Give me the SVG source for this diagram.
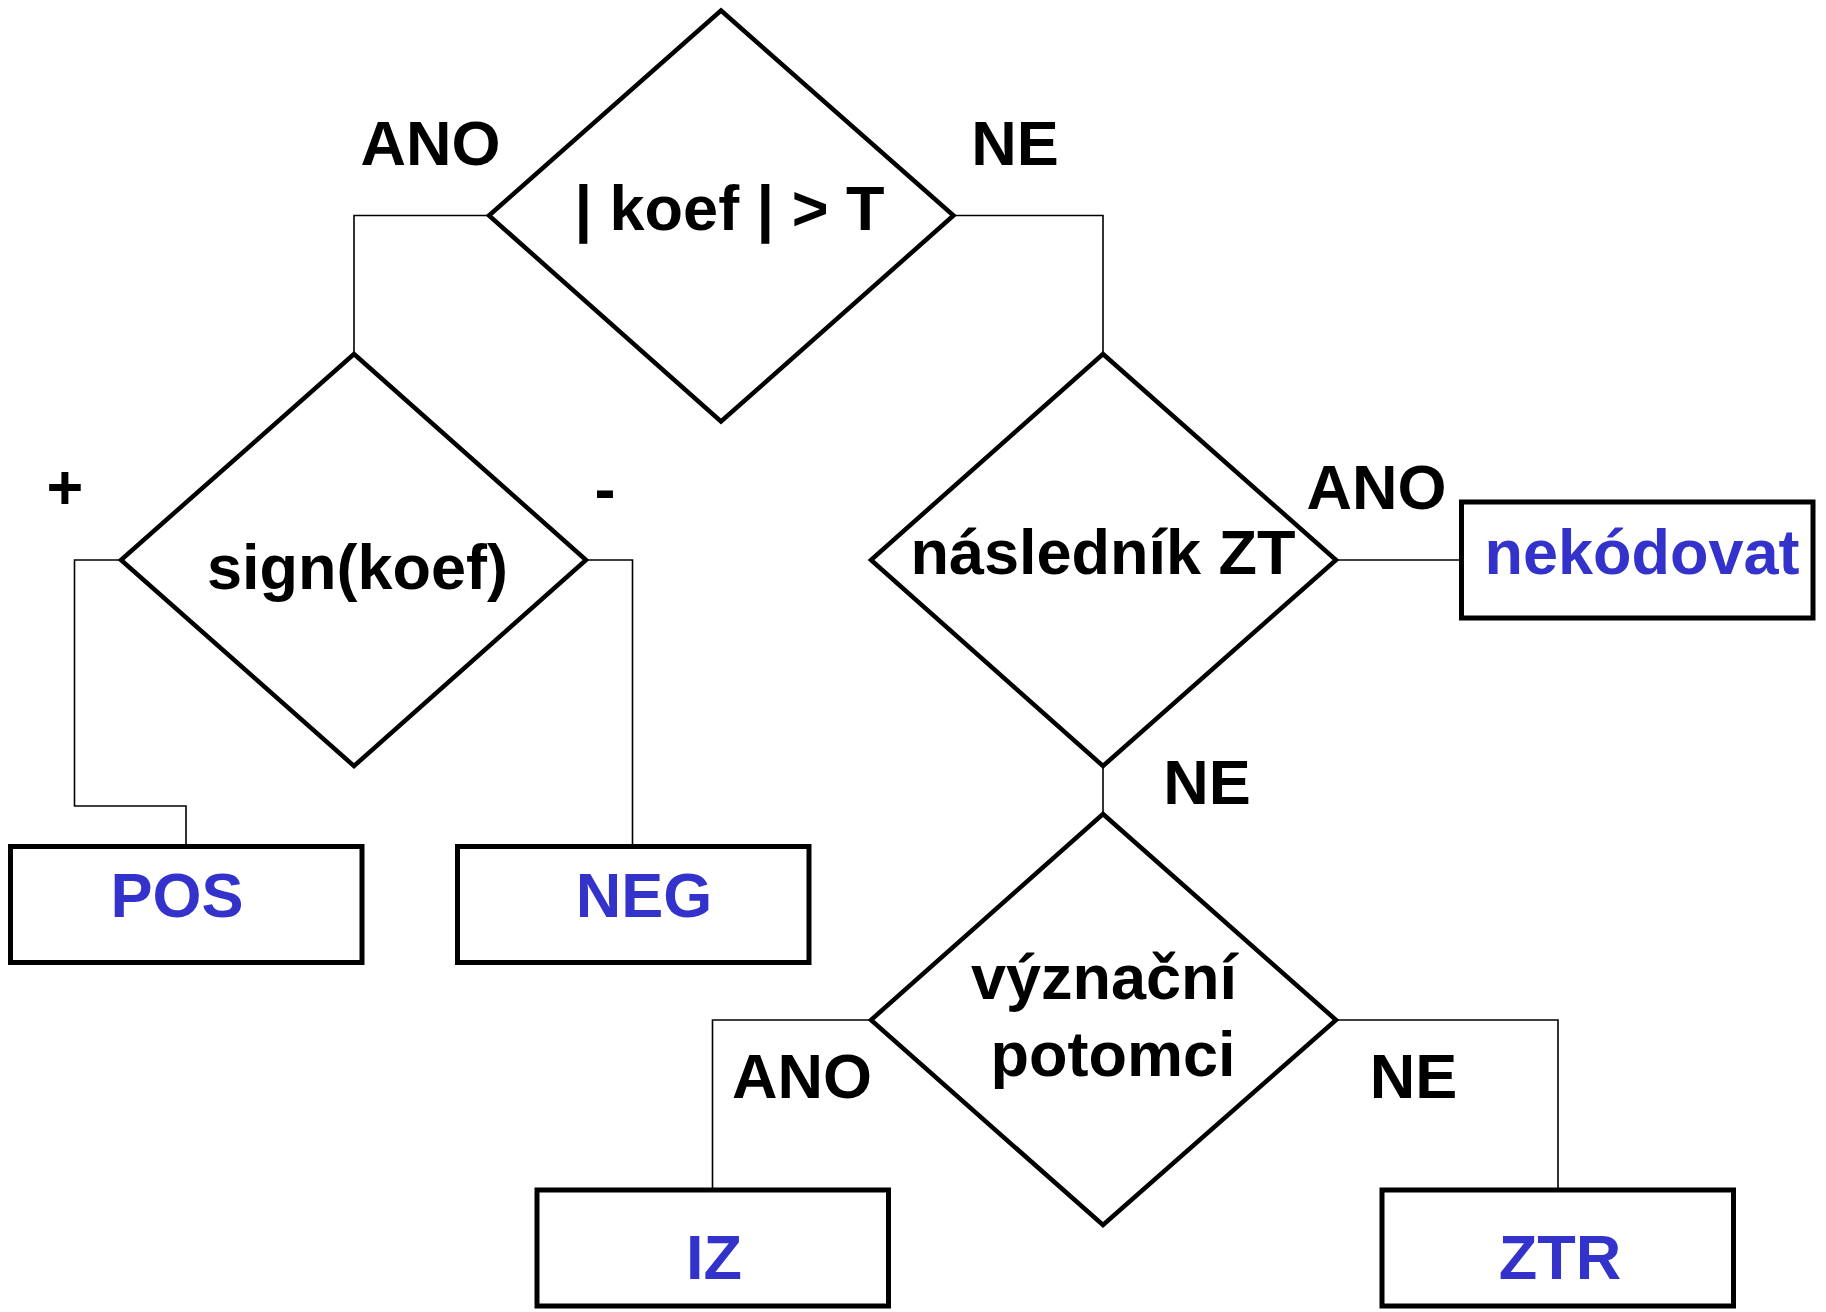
<svg xmlns="http://www.w3.org/2000/svg" width="1826" height="1312" viewBox="0 0 1826 1312">
<style>
.bg{fill:#ffffff}
.dia{fill:none;stroke:#000;stroke-width:4.5;stroke-linejoin:miter}
.box{fill:none;stroke:#000;stroke-width:5}
.con{fill:none;stroke:#000;stroke-width:1.6}
text{font-family:"Liberation Sans",Arial,sans-serif;font-weight:bold;font-size:63px;text-anchor:middle}
.lbl{fill:#000}
.out{fill:#3333CC}
</style>
<rect class="bg" x="0" y="0" width="1826" height="1312"/>
<g id="connectors">
<polyline class="con" points="489,215.5 354,215.5 354,354"/>
<polyline class="con" points="953.5,215.5 1103,215.5 1103,354"/>
<polyline class="con" points="121,560 74.5,560 74.5,806 186,806 186,846"/>
<polyline class="con" points="586,560 632.5,560 632.5,846"/>
<polyline class="con" points="1336,560 1461.5,560"/>
<polyline class="con" points="1103,766 1103,814"/>
<polyline class="con" points="871,1020 712.5,1020 712.5,1190"/>
<polyline class="con" points="1336,1020 1558,1020 1558,1190"/>
<text class="lbl" x="430.5" y="165">ANO</text>
<text class="lbl" x="1015" y="165">NE</text>
<text class="lbl" x="65" y="509">+</text>
<text class="lbl" x="605" y="511">-</text>
<text class="lbl" x="1376.5" y="509">ANO</text>
<text class="lbl" x="1207" y="804">NE</text>
<text class="lbl" x="802" y="1098">ANO</text>
<text class="lbl" x="1413.5" y="1098">NE</text>
</g>
<g id="koef">
<polygon class="dia" points="721,10.5 953.5,215.5 721,421.5 489,215.5"/>
<text class="lbl" x="729.5" y="230">| koef | &gt; T</text>
</g>
<g id="sign">
<polygon class="dia" points="354,354 586,560 354,766 121,560"/>
<text class="lbl" x="357.5" y="589">sign(koef)</text>
</g>
<g id="naslednik">
<polygon class="dia" points="1103,354 1336,560 1103,766 871,560"/>
<text class="lbl" x="1103" y="574">následník ZT</text>
</g>
<g id="vyznacni">
<polygon class="dia" points="1103,814 1336,1020 1103,1225 871,1020"/>
<text class="lbl" x="1104" y="999">význační</text>
<text class="lbl" x="1113" y="1076">potomci</text>
</g>
<g id="nekodovat">
<rect class="box" x="1461.5" y="502" width="351.5" height="116"/>
<text class="out" x="1642" y="574">nekódovat</text>
</g>
<g id="pos">
<rect class="box" x="10.5" y="846.5" width="351.5" height="116"/>
<text class="out" x="177" y="917">POS</text>
</g>
<g id="neg">
<rect class="box" x="457.5" y="846.5" width="351.5" height="116"/>
<text class="out" x="644" y="917">NEG</text>
</g>
<g id="iz">
<rect class="box" x="537" y="1190" width="351.5" height="116"/>
<text class="out" x="714" y="1279">IZ</text>
</g>
<g id="ztr">
<rect class="box" x="1382" y="1190" width="351.5" height="116"/>
<text class="out" x="1560" y="1279">ZTR</text>
</g>
</svg>
